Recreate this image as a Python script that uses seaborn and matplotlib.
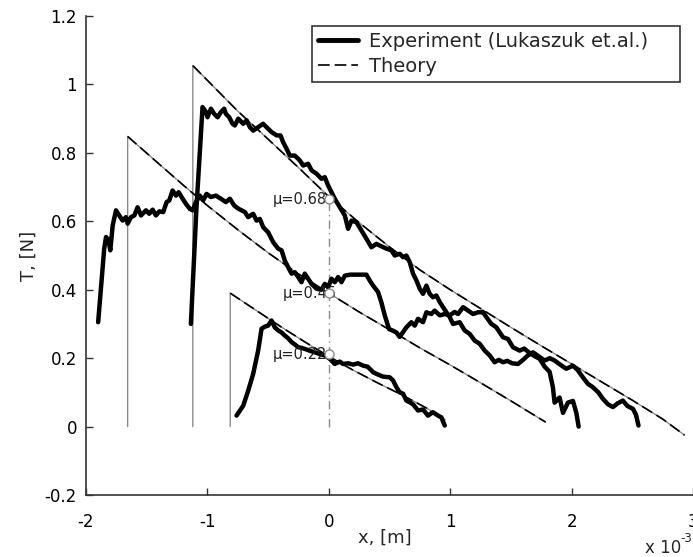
import matplotlib
matplotlib.use("Agg")
import matplotlib.pyplot as plt
import pandas as pd
import seaborn as sns
from matplotlib.lines import Line2D
from matplotlib.ticker import FuncFormatter

# ---------------- data (x in units of 1e-3 m, T in N) ----------------
# theory curves (start of each curve is the contact point)
theory1_x = [-1.12, -0.75, -0.5, -0.25, 0.0, 0.25, 0.5, 0.75, 1.0,
             1.25, 1.5, 1.75, 2.0, 2.25, 2.5, 2.75, 2.93]
theory1_y = [1.055, 0.922, 0.840, 0.757, 0.672, 0.596, 0.525, 0.458, 0.400,
             0.345, 0.290, 0.236, 0.183, 0.130, 0.077, 0.022, -0.025]

theory2_x = [-1.657, -1.4, -1.2, -1.0, -0.738, -0.5, -0.25, 0.0, 0.25,
             0.5, 0.75, 1.0, 1.25, 1.5, 1.786]
theory2_y = [0.848, 0.768, 0.706, 0.646, 0.572, 0.508, 0.446, 0.39, 0.335,
             0.283, 0.23, 0.18, 0.128, 0.075, 0.013]

theory3_x = [-0.812, -0.6, -0.4, -0.2, 0.0, 0.2, 0.4, 0.6, 0.8, 0.96]
theory3_y = [0.39, 0.34, 0.293, 0.248, 0.205, 0.165, 0.128, 0.093, 0.055, 0.02]

# experiment (Lukaszuk et al.)
expA_x = [-1.136, -1.090, -1.040, -1.013, -0.999, -0.971, -0.944, -0.916, -0.889, -0.862,
          -0.848, -0.820, -0.793, -0.774, -0.746, -0.705, -0.677, -0.650, -0.623, -0.582,
          -0.541, -0.513, -0.472, -0.430, -0.398, -0.376, -0.348, -0.321, -0.280, -0.239,
          -0.211, -0.170, -0.142, -0.101, -0.060, -0.033, -0.006, 0.049, 0.091, 0.132,
          0.159, 0.187, 0.228, 0.269, 0.310, 0.351, 0.392, 0.420, 0.475, 0.516,
          0.543, 0.584, 0.612, 0.639, 0.667, 0.694, 0.722, 0.749, 0.776, 0.804,
          0.831, 0.858, 0.886, 0.914, 0.941, 0.969, 0.996, 1.023, 1.078, 1.119,
          1.160, 1.202, 1.243, 1.284, 1.325, 1.366, 1.400, 1.435, 1.470, 1.510,
          1.558, 1.600, 1.640, 1.682, 1.730, 1.778, 1.820, 1.860, 1.910, 1.956,
          2.011, 2.050, 2.093, 2.134, 2.175, 2.220, 2.258, 2.300, 2.340, 2.380,
          2.422, 2.460, 2.505, 2.530, 2.551]
expA_y = [0.300, 0.640, 0.934, 0.920, 0.904, 0.929, 0.914, 0.904, 0.919, 0.929,
          0.914, 0.904, 0.885, 0.880, 0.900, 0.885, 0.895, 0.875, 0.865, 0.875,
          0.885, 0.875, 0.861, 0.851, 0.851, 0.831, 0.812, 0.792, 0.792, 0.778,
          0.763, 0.768, 0.749, 0.739, 0.724, 0.729, 0.705, 0.666, 0.641, 0.617,
          0.578, 0.602, 0.597, 0.573, 0.549, 0.524, 0.534, 0.529, 0.520, 0.515,
          0.500, 0.505, 0.495, 0.500, 0.480, 0.447, 0.427, 0.403, 0.388, 0.412,
          0.388, 0.378, 0.383, 0.364, 0.349, 0.334, 0.320, 0.300, 0.305, 0.281,
          0.271, 0.251, 0.242, 0.222, 0.208, 0.188, 0.195, 0.188, 0.192, 0.185,
          0.183, 0.195, 0.208, 0.217, 0.205, 0.193, 0.200, 0.193, 0.180, 0.169,
          0.178, 0.165, 0.144, 0.125, 0.115, 0.100, 0.081, 0.065, 0.057, 0.068,
          0.076, 0.060, 0.052, 0.035, 0.003]

expB_x = [-1.900, -1.850, -1.835, -1.815, -1.800, -1.780, -1.753, -1.726, -1.698, -1.671,
          -1.657, -1.630, -1.602, -1.575, -1.547, -1.506, -1.479, -1.451, -1.424, -1.396,
          -1.364, -1.336, -1.314, -1.287, -1.259, -1.237, -1.204, -1.177, -1.144, -1.122,
          -1.095, -1.062, -1.035, -1.007, -0.971, -0.930, -0.889, -0.848, -0.815, -0.779,
          -0.746, -0.691, -0.664, -0.623, -0.595, -0.568, -0.541, -0.500, -0.458, -0.417,
          -0.389, -0.362, -0.335, -0.307, -0.280, -0.252, -0.225, -0.198, -0.170, -0.142,
          -0.101, -0.060, -0.033, -0.006, 0.022, 0.049, 0.077, 0.104, 0.132, 0.173,
          0.310, 0.337, 0.365, 0.406, 0.433, 0.461, 0.496, 0.530, 0.557, 0.584,
          0.639, 0.680, 0.708, 0.735, 0.776, 0.804, 0.845, 0.872, 0.914, 0.955,
          0.996, 1.037, 1.064, 1.106, 1.147, 1.188, 1.229, 1.270, 1.298, 1.339,
          1.380, 1.435, 1.476, 1.517, 1.572, 1.610, 1.654, 1.700, 1.737, 1.778,
          1.819, 1.846, 1.860, 1.901, 1.929, 1.970, 2.011, 2.039, 2.058]
expB_y = [0.305, 0.520, 0.554, 0.545, 0.515, 0.588, 0.632, 0.617, 0.602, 0.612,
          0.593, 0.612, 0.617, 0.641, 0.617, 0.632, 0.622, 0.634, 0.617, 0.629,
          0.627, 0.656, 0.661, 0.690, 0.675, 0.685, 0.666, 0.651, 0.636, 0.632,
          0.656, 0.675, 0.661, 0.680, 0.671, 0.675, 0.666, 0.656, 0.666, 0.646,
          0.637, 0.627, 0.612, 0.622, 0.602, 0.607, 0.583, 0.568, 0.539, 0.520,
          0.515, 0.485, 0.466, 0.447, 0.451, 0.437, 0.422, 0.447, 0.432, 0.417,
          0.403, 0.400, 0.417, 0.407, 0.432, 0.422, 0.437, 0.422, 0.441, 0.444,
          0.444, 0.427, 0.412, 0.393, 0.363, 0.325, 0.285, 0.280, 0.275, 0.262,
          0.290, 0.305, 0.295, 0.315, 0.305, 0.334, 0.329, 0.339, 0.325, 0.329,
          0.325, 0.335, 0.329, 0.349, 0.339, 0.329, 0.334, 0.334, 0.320, 0.300,
          0.290, 0.261, 0.256, 0.232, 0.222, 0.228, 0.215, 0.205, 0.198, 0.175,
          0.160, 0.115, 0.070, 0.085, 0.040, 0.070, 0.075, 0.040, 0.000]

expC_x = [-0.760, -0.705, -0.664, -0.623, -0.582, -0.554, -0.527, -0.500, -0.472, -0.445,
          -0.417, -0.390, -0.362, -0.335, -0.307, -0.280, -0.252, -0.225, -0.198, -0.160,
          -0.115, -0.075, -0.033, 0.008, 0.049, 0.090, 0.118, 0.160, 0.200, 0.240,
          0.283, 0.320, 0.365, 0.392, 0.447, 0.502, 0.529, 0.557, 0.585, 0.612,
          0.639, 0.667, 0.694, 0.735, 0.776, 0.817, 0.858, 0.900, 0.927, 0.955]
expC_y = [0.032, 0.061, 0.105, 0.154, 0.222, 0.286, 0.292, 0.295, 0.310, 0.290,
          0.281, 0.275, 0.266, 0.258, 0.247, 0.240, 0.232, 0.230, 0.227, 0.222,
          0.217, 0.212, 0.208, 0.198, 0.183, 0.190, 0.183, 0.185, 0.181, 0.185,
          0.178, 0.175, 0.159, 0.154, 0.146, 0.144, 0.135, 0.115, 0.100, 0.096,
          0.076, 0.071, 0.065, 0.047, 0.050, 0.032, 0.042, 0.032, 0.027, 0.003]

# friction coefficient markers at x = 0
mu_labels = ["\u03bc=0.68", "\u03bc=0.45", "\u03bc=0.22"]
mu_x = [0.0, 0.0, 0.0]
mu_y = [0.665, 0.39, 0.212]
mu_label_x = [-0.46, -0.38, -0.46]

x_ticks = [-2, -1, 0, 1, 2, 3]
y_ticks = [-0.2, 0, 0.2, 0.4, 0.6, 0.8, 1.0, 1.2]

# ---------------- figure ----------------
sns.set_theme(style="white")
plt.rcParams["font.family"] = ["DejaVu Sans"]
plt.rcParams["axes.unicode_minus"] = False

W, H = 693, 557
fig = plt.figure(figsize=(W / 100, H / 100), dpi=100)
ax = fig.add_axes([86 / W, (H - 495) / H, 607 / W, 479 / H])

GREY = "#8a8a8a"
DASH = (0, (7, 3))

# theory: grey contact line + curve, black dashed curve
for tx, ty in [(theory1_x, theory1_y), (theory2_x, theory2_y), (theory3_x, theory3_y)]:
    sns.lineplot(x=[tx[0]] + tx, y=[0.0] + ty, sort=False, estimator=None,
                 color=GREY, lw=1.0, ax=ax, zorder=2)
    sns.lineplot(x=tx, y=ty, sort=False, estimator=None,
                 color="black", lw=1.2, linestyle=DASH, ax=ax, zorder=3)

# dash-dot reference at x = 0
sns.lineplot(x=[0.0, 0.0], y=[0.0, max(mu_y)], sort=False, estimator=None,
             color=GREY, lw=1.0, linestyle=(0, (6, 3, 1, 3)), ax=ax, zorder=2)

# experiment
exp_df = pd.concat([
    pd.DataFrame({"x": expA_x, "y": expA_y, "curve": "A"}),
    pd.DataFrame({"x": expB_x, "y": expB_y, "curve": "B"}),
    pd.DataFrame({"x": expC_x, "y": expC_y, "curve": "C"}),
])
sns.lineplot(data=exp_df, x="x", y="y", units="curve", estimator=None, sort=False,
             color="black", lw=3.2, ax=ax, zorder=4, legend=False)

# mu markers and labels
sns.scatterplot(x=mu_x, y=mu_y, marker="o", s=42, facecolor="white",
                edgecolor=GREY, linewidth=1.0, ax=ax, zorder=6, legend=False)
for lx, ly, lab in zip(mu_label_x, mu_y, mu_labels):
    ax.text(lx, ly, lab, ha="left", va="center", fontsize=10.5,
            color="#222222", zorder=5)

# axes styling
ax.set_xlim(-2, 3)
ax.set_ylim(-0.2, 1.2)
ax.set_xticks(x_ticks)
ax.set_yticks(y_ticks)
fmt = FuncFormatter(lambda v, p: ("%g" % round(v, 3)))
ax.xaxis.set_major_formatter(fmt)
ax.yaxis.set_major_formatter(fmt)
ax.tick_params(direction="in", length=5, width=1.0, color="#333333",
               labelcolor="black", labelsize=12, bottom=True, left=True,
               top=False, right=False)
ax.tick_params(axis="x", pad=13)
ax.tick_params(axis="y", pad=6.5)
for s in ["top", "right"]:
    ax.spines[s].set_visible(False)
for s in ["left", "bottom"]:
    ax.spines[s].set_color("#333333")
    ax.spines[s].set_linewidth(1.2)
ax.grid(False)

ax.set_xlabel("x, [m]", fontsize=13)
ax.set_ylabel("T, [N]", fontsize=13)
ax.xaxis.set_label_coords(0.4926, -0.071)
ax.yaxis.set_label_coords(-0.08, 0.5)

# axis multiplier note
fig.text(645 / W, 4 / H, "x 10", ha="left", va="baseline", fontsize=12)
fig.text(680 / W, 15 / H, "-3", ha="left", va="baseline", fontsize=8.5)

# legend
handles = [Line2D([], [], color="black", lw=3.5),
           Line2D([], [], color="black", lw=1.2, linestyle=DASH)]
leg = ax.legend(handles, ["Experiment (Lukaszuk et.al.)", "Theory"],
                loc="upper left", bbox_to_anchor=(0.372, 0.848, 0.607, 0.131),
                mode="expand", borderaxespad=0, fontsize=14, handlelength=2.1,
                handletextpad=0.55, labelspacing=0.3, borderpad=0.3,
                fancybox=False, framealpha=1, edgecolor="#333333")
leg.get_frame().set_linewidth(1.2)
leg.set_zorder(10)

fig.savefig("out.png", dpi=100)
